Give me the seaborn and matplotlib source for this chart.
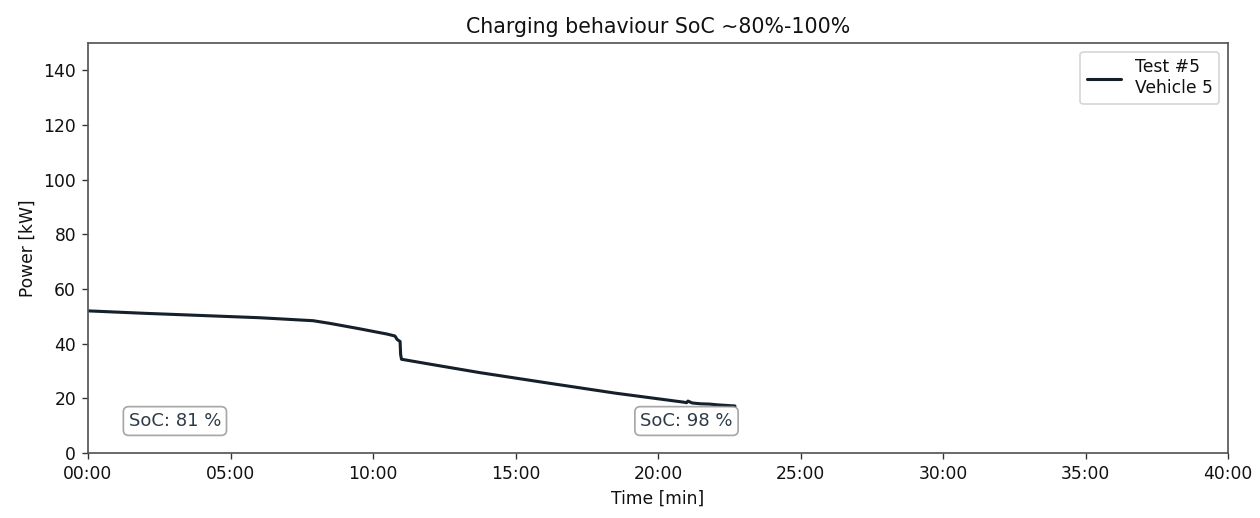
import matplotlib
matplotlib.use("Agg")
import matplotlib.pyplot as plt
import seaborn as sns
import pandas as pd
from matplotlib.ticker import FuncFormatter

# ---- data ----
time_min = [0, 2, 4, 6, 7.9, 8.5, 9.5, 10.5, 10.77, 10.85, 10.95, 10.97, 11.0,
            12.0, 13.75, 16.2, 18.5, 20.9, 21.0, 21.05, 21.2, 21.5, 21.8, 22.1,
            22.4, 22.7]
power_kw = [52.0, 51.1, 50.3, 49.5, 48.4, 47.4, 45.5, 43.5, 42.8, 41.5, 40.8, 36.0, 34.3,
            32.5, 29.4, 25.5, 21.9, 18.6, 18.4, 19.0, 18.3, 18.0, 17.9, 17.6,
            17.4, 17.2]
series_label = "Test #5\nVehicle 5"

soc_labels = ["SoC: 81 %", "SoC: 98 %"]
soc_time = [3.05, 21.0]
soc_power = [11.7, 11.7]

x_ticks = [0, 5, 10, 15, 20, 25, 30, 35, 40]
y_ticks = [0, 20, 40, 60, 80, 100, 120, 140]

df = pd.DataFrame({"time": time_min, "power": power_kw})

sns.set_style("ticks")
plt.rcParams["font.family"] = ["DejaVu Sans"]
plt.rcParams["text.color"] = "#111111"
plt.rcParams["axes.labelcolor"] = "#111111"

fig = plt.figure(figsize=(1260 / 123, 518 / 123), dpi=123)
ax = fig.add_axes([88 / 1260, 1 - 453 / 518, 1140 / 1260, 410 / 518])

sns.lineplot(data=df, x="time", y="power", ax=ax, color="#15202b", linewidth=1.8,
             sort=False, estimator=None, label=series_label)

for lab, t, p in zip(soc_labels, soc_time, soc_power):
    ax.text(t, p, lab, ha="center", va="center", fontsize=10.5, color="#2e3b47",
            bbox=dict(boxstyle="round,pad=0.3", facecolor="white", edgecolor="#8a8a8a",
                      alpha=0.75))

ax.set_xlim(0, 40)
ax.set_ylim(0, 150)
ax.set_xticks(x_ticks)
ax.set_yticks(y_ticks)
ax.xaxis.set_major_formatter(FuncFormatter(lambda v, pos: f"{int(v):02d}:00"))
ax.set_xlabel("Time [min]")
ax.set_ylabel("Power [kW]")
ax.set_title("Charging behaviour SoC ~80%-100%", fontsize=12, color="#111111")
for s in ax.spines.values():
    s.set_color("#555555")
    s.set_linewidth(1.0)
ax.tick_params(colors="#333333", labelcolor="#111111")
ax.legend(loc="upper right", frameon=True)

fig.savefig("out.png", dpi=123)
